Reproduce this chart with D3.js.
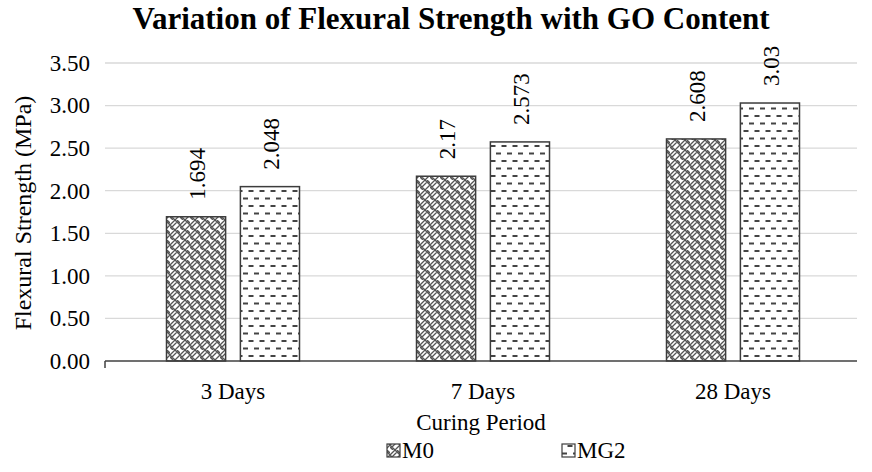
<!DOCTYPE html>
<html>
<head>
<meta charset="utf-8">
<script src="https://cdn.jsdelivr.net/npm/d3@7"></script>
<style>
  body { margin: 0; background: #fff; }
  svg text { font-family: "Liberation Serif", "Times New Roman", serif; fill: #000; }
</style>
</head>
<body>
<svg id="chart" width="872" height="472"></svg>
<script>
// Chart values
var categories = ["3 Days", "7 Days", "28 Days"];
var seriesNames = ["M0", "MG2"];
var m0Values = [1.694, 2.17, 2.608];
var mg2Values = [2.048, 2.573, 3.03];
var m0Labels = ["1.694", "2.17", "2.608"];
var mg2Labels = ["2.048", "2.573", "3.03"];
var yTicks = [0, 0.5, 1, 1.5, 2, 2.5, 3, 3.5];

var serif = "'Liberation Serif', 'Times New Roman', serif";
var svg = d3.select("#chart");

// Plot area
var plotLeft = 105, plotRight = 857, plotTop = 63, plotBottom = 361;

// Patterns: weave for M0, dashed horizontal for MG2
var defs = svg.append("defs");
var weave = defs.append("pattern")
    .attr("id", "weave")
    .attr("patternUnits", "userSpaceOnUse")
    .attr("width", 10).attr("height", 10);
weave.append("rect").attr("width", 10).attr("height", 10).attr("fill", "#fff");
weave.append("path")
    .attr("d", "M0,5 L5,0 M2,7 L7,2 M5,10 L10,5 M5,0 L10,5 M0,5 L5,10 M3,10 L0,7 M10,3 L7,0")
    .attr("stroke", "#555").attr("stroke-width", 1.3).attr("fill", "none");

var dash = defs.append("pattern")
    .attr("id", "dash")
    .attr("patternUnits", "userSpaceOnUse")
    .attr("width", 11).attr("height", 15);
dash.append("rect").attr("width", 11).attr("height", 15).attr("fill", "#fff");
dash.append("path")
    .attr("d", "M1,3.5 L6,3.5 M6.5,11 L11,11 M0,11 L0.5,11")
    .attr("stroke", "#444").attr("stroke-width", 1.8).attr("fill", "none");

var patterns = ["url(#weave)", "url(#dash)"];

// Scales
var x = d3.scaleBand()
    .domain(categories)
    .range([plotLeft + 3, plotRight + 1])
    .padding(0);

var xInner = d3.scaleBand()
    .domain(seriesNames)
    .range([0, 133])
    .paddingInner(0.2);

var y = d3.scaleLinear()
    .domain([0, 3.5])
    .range([plotBottom, plotTop]);

// Gridlines
svg.append("g")
    .selectAll("line")
    .data(yTicks.slice(1))
    .enter()
    .append("line")
    .attr("x1", plotLeft).attr("x2", plotRight)
    .attr("y1", function(d) { return y(d); })
    .attr("y2", function(d) { return y(d); })
    .attr("stroke", "#d9d9d9").attr("stroke-width", 1.3);

// Y axis labels
var yAxis = svg.append("g")
    .attr("transform", "translate(" + plotLeft + ",0)")
    .call(d3.axisLeft(y).tickValues(yTicks).tickFormat(d3.format(".2f")).tickSize(0).tickPadding(15));
yAxis.select(".domain").remove();
yAxis.selectAll("text")
    .style("font-family", serif)
    .style("font-size", "23px")
    .attr("fill", "#000");

// Bars
var seriesData = [m0Values, mg2Values];
var labelData = [m0Labels, mg2Labels];
var groups = svg.append("g");
seriesNames.forEach(function(name, si) {
    groups.selectAll(null)
        .data(seriesData[si])
        .enter()
        .append("rect")
        .attr("x", function(d, i) { return x(categories[i]) + x.bandwidth() / 2 - 66.5 + xInner(name); })
        .attr("y", function(d) { return y(d); })
        .attr("width", xInner.bandwidth())
        .attr("height", function(d) { return y(0) - y(d); })
        .attr("fill", patterns[si])
        .attr("stroke", "#3c3c3c")
        .attr("stroke-width", 1.5);

    // Data labels (rotated)
    groups.selectAll(null)
        .data(seriesData[si])
        .enter()
        .append("text")
        .attr("transform", function(d, i) {
            var cx = x(categories[i]) + x.bandwidth() / 2 - 66.5 + xInner(name) + xInner.bandwidth() / 2;
            return "translate(" + (cx + 9) + "," + (y(d) - 17) + ") rotate(-90)";
        })
        .attr("text-anchor", "start")
        .style("font-family", serif)
        .style("font-size", "23px")
        .text(function(d, i) { return labelData[si][i]; });
});

// X axis line with small end tick
svg.append("line")
    .attr("x1", plotLeft).attr("x2", plotRight)
    .attr("y1", plotBottom).attr("y2", plotBottom)
    .attr("stroke", "#404040").attr("stroke-width", 1.5);
svg.append("line")
    .attr("x1", plotLeft).attr("x2", plotLeft)
    .attr("y1", plotBottom).attr("y2", plotBottom + 7)
    .attr("stroke", "#404040").attr("stroke-width", 1.5);

// Category labels
svg.append("g")
    .selectAll("text")
    .data(categories)
    .enter()
    .append("text")
    .attr("x", function(d) { return x(d) + x.bandwidth() / 2; })
    .attr("y", 399)
    .attr("text-anchor", "middle")
    .style("font-family", serif)
    .style("font-size", "23px")
    .text(function(d) { return d; });

// Axis titles
svg.append("text")
    .attr("x", 481).attr("y", 430)
    .attr("text-anchor", "middle")
    .style("font-family", serif)
    .style("font-size", "23px")
    .text("Curing Period");

svg.append("text")
    .attr("transform", "translate(31,213) rotate(-90)")
    .attr("text-anchor", "middle")
    .style("font-family", serif)
    .style("font-size", "24px")
    .text("Flexural Strength (MPa)");

// Title
svg.append("text")
    .attr("x", 451).attr("y", 29)
    .attr("text-anchor", "middle")
    .style("font-family", serif)
    .style("font-size", "31px")
    .style("font-weight", "bold")
    .text("Variation of Flexural Strength with GO Content");

// Legend
var legendX = [387, 562];
var legend = svg.append("g");
seriesNames.forEach(function(name, si) {
    legend.append("rect")
        .attr("x", legendX[si]).attr("y", 444)
        .attr("width", 13).attr("height", 13)
        .attr("fill", patterns[si])
        .attr("stroke", "#3c3c3c").attr("stroke-width", 1.2);
    legend.append("text")
        .attr("x", legendX[si] + 15).attr("y", 458)
        .style("font-family", serif)
        .style("font-size", "23px")
        .text(name);
});
</script>
</body>
</html>
